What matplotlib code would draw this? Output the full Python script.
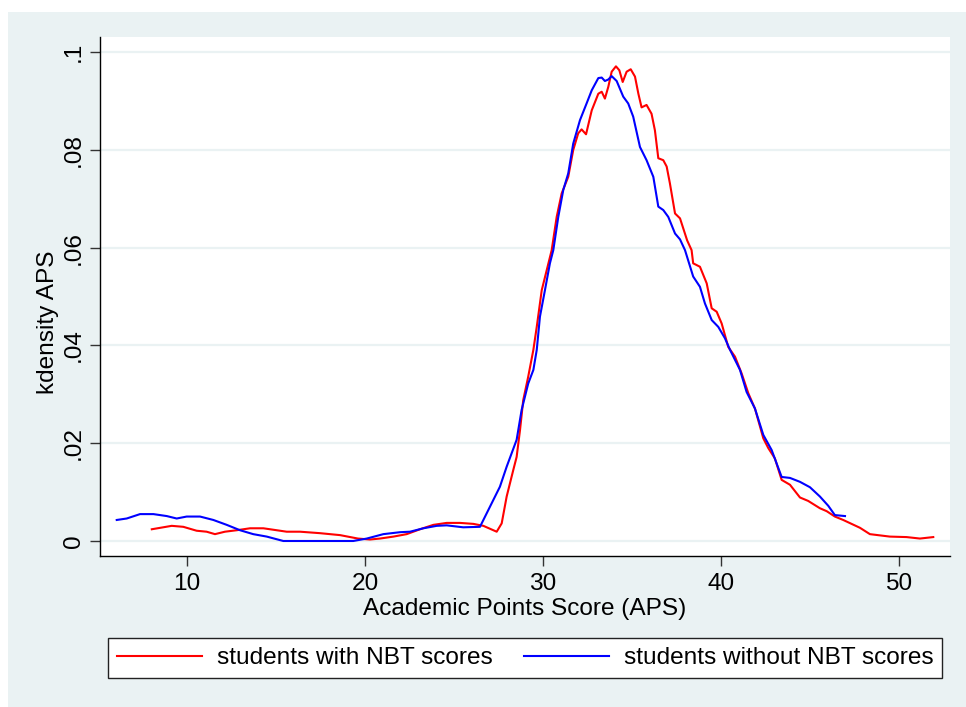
import matplotlib.pyplot as plt
from matplotlib.patches import Rectangle

# kernel density of APS
with_nbt_x = [
    8.02, 9.14, 9.79, 10.54, 11.1, 11.57, 12.13, 12.79, 13.54, 14.29, 15.04,
    15.6, 16.35, 17.47, 18.6, 19.6, 20.28, 20.84, 21.6, 22.34, 23.09, 23.84,
    24.59, 25.34, 26.09, 26.65, 27.4, 27.68, 27.96, 28.33, 28.52, 28.71, 28.89,
    29.17, 29.46, 29.65, 29.93, 30.21, 30.49, 30.77, 31.05, 31.42, 31.7, 31.98,
    32.17, 32.42, 32.74, 33.11, 33.3, 33.48, 33.67, 33.86, 34.1, 34.29, 34.48,
    34.7, 34.93, 35.17, 35.36, 35.54, 35.82, 36.1, 36.29, 36.48, 36.76, 36.95,
    37.13, 37.42, 37.7, 38.1, 38.35, 38.44, 38.82, 39.2, 39.48, 39.76, 40.04,
    40.41, 40.79, 41.16, 41.54, 41.91, 42.38, 42.66, 43.03, 43.41, 43.88, 44.44,
    44.9, 45.56, 45.94, 46.4, 46.87, 47.81, 48.37, 49.49, 50.43, 51.18, 51.93,
]
with_nbt_y = [
    0.0024, 0.0031, 0.0029, 0.0021, 0.0019, 0.0014, 0.0019, 0.0022, 0.0026,
    0.0026, 0.0022, 0.0019, 0.0019, 0.0016, 0.0012, 0.0005, 0.0003, 0.0005,
    0.0009, 0.0014, 0.0024, 0.0033, 0.0037, 0.0037, 0.0035, 0.0031, 0.0019,
    0.0036, 0.0091, 0.0145, 0.0172, 0.0227, 0.0288, 0.0336, 0.0391, 0.0438,
    0.0513, 0.0554, 0.0595, 0.0663, 0.0711, 0.0745, 0.0800, 0.0834, 0.0842,
    0.0832, 0.0881, 0.0915, 0.0919, 0.0905, 0.0929, 0.0960, 0.0971, 0.0963,
    0.0939, 0.0960, 0.0965, 0.0950, 0.0915, 0.0887, 0.0892, 0.0874, 0.0840,
    0.0783, 0.0779, 0.0766, 0.0732, 0.0670, 0.0660, 0.0615, 0.0595, 0.0568,
    0.0561, 0.0527, 0.0476, 0.0469, 0.0445, 0.0397, 0.0377, 0.0343, 0.0302,
    0.0271, 0.0210, 0.0190, 0.0169, 0.0125, 0.0115, 0.0089, 0.0082, 0.0067,
    0.0061, 0.0050, 0.0043, 0.0027, 0.0014, 0.0009, 0.0008, 0.0005, 0.0008,
]

without_nbt_x = [
    6.05, 6.61, 7.36, 8.11, 8.86, 9.42, 9.98, 10.73, 11.48, 12.23, 12.98, 13.72,
    14.48, 15.41, 19.34, 20.1, 21.03, 21.97, 22.53, 23.28, 24.03, 24.59, 25.52,
    26.46, 27.02, 27.58, 27.96, 28.52, 28.8, 29.17, 29.46, 29.65, 29.83, 30.11,
    30.39, 30.58, 30.86, 31.14, 31.42, 31.7, 32.08, 32.45, 32.74, 33.11, 33.3,
    33.48, 33.67, 33.86, 34.14, 34.51, 34.79, 35.07, 35.45, 35.82, 36.2, 36.48,
    36.76, 37.04, 37.42, 37.7, 37.98, 38.44, 38.82, 39.1, 39.48, 39.85, 40.22,
    40.51, 41.07, 41.44, 41.91, 42.38, 42.85, 43.41, 43.88, 44.44, 45.0, 45.56,
    46.03, 46.4, 46.97,
]
without_nbt_y = [
    0.0043, 0.0046, 0.0055, 0.0055, 0.0051, 0.0046, 0.0050, 0.0050, 0.0043,
    0.0033, 0.0022, 0.0014, 0.0009, 0.0000, 0.0000, 0.0005, 0.0014, 0.0018,
    0.0019, 0.0026, 0.0031, 0.0032, 0.0028, 0.0029, 0.0070, 0.0111, 0.0152,
    0.0207, 0.0268, 0.0322, 0.0350, 0.0391, 0.0459, 0.0513, 0.0568, 0.0595,
    0.0663, 0.0718, 0.0752, 0.0813, 0.0861, 0.0895, 0.0922, 0.0947, 0.0948,
    0.0941, 0.0944, 0.0951, 0.0941, 0.0909, 0.0895, 0.0868, 0.0806, 0.0779,
    0.0745, 0.0684, 0.0677, 0.0663, 0.0629, 0.0617, 0.0595, 0.0541, 0.0520,
    0.0486, 0.0452, 0.0438, 0.0415, 0.0391, 0.0350, 0.0305, 0.0271, 0.0217,
    0.0186, 0.0131, 0.0129, 0.0121, 0.0110, 0.0091, 0.0072, 0.0053, 0.0051,
]

x_ticks = [10, 20, 30, 40, 50]
y_ticks = [0, 0.02, 0.04, 0.06, 0.08, 0.1]
y_tick_labels = ["0", ".02", ".04", ".06", ".08", ".1"]

BG = "#EAF2F3"
FS = 17.6

plt.rcParams["font.family"] = ["Liberation Sans", "DejaVu Sans"]

fig = plt.figure(figsize=(9.66, 7.07), dpi=100, facecolor="white")
fig.patches.append(Rectangle((8 / 966, 0), 1, 1 - 12 / 707, transform=fig.transFigure,
                             facecolor=BG, edgecolor="none", zorder=-10))

ax = fig.add_axes([100 / 966, 1 - 556 / 707, 850 / 966, 519 / 707])
ax.set_facecolor("white")

for y in y_ticks:
    ax.axhline(y, color=BG, linewidth=1.6, zorder=0)

ax.plot(with_nbt_x, with_nbt_y, color="#FF0000", linewidth=1.5,
        label="students with NBT scores")
ax.plot(without_nbt_x, without_nbt_y, color="#0000FF", linewidth=1.5,
        label="students without NBT scores")

ax.set_xlim(5.11, 52.87)
ax.set_ylim(-0.00307, 0.1031)
ax.set_xticks(x_ticks)
ax.set_xticklabels([str(t) for t in x_ticks])
ax.set_yticks(y_ticks)
ax.set_yticklabels(y_tick_labels, rotation=90, va="center")

ax.tick_params(axis="both", direction="out", length=7, width=1, color="#333333",
               labelsize=FS, pad=4)
ax.tick_params(axis="x", pad=5)

for side in ["top", "right"]:
    ax.spines[side].set_visible(False)
for side in ["left", "bottom"]:
    ax.spines[side].set_color("black")
    ax.spines[side].set_linewidth(1)

fig.text(48 / 966, 1 - 322 / 707, "kdensity APS", rotation=90,
         ha="center", va="center", fontsize=FS)
fig.text(525 / 966, 1 - 609 / 707, "Academic Points Score (APS)",
         ha="center", va="center", fontsize=FS)

handles, labels = ax.get_legend_handles_labels()
leg = fig.legend(handles, labels, ncol=2, mode="expand", loc="center",
                 bbox_to_anchor=(108 / 966, 1 - 681 / 707, 834 / 966, 46 / 707),
                 borderaxespad=0, borderpad=0.35, handlelength=3.5,
                 handletextpad=0.6, fontsize=FS, fancybox=False,
                 frameon=True, framealpha=1)
leg.get_frame().set_edgecolor("#222222")
leg.get_frame().set_linewidth(1)

fig.savefig("out.png", dpi=100, facecolor="white")
